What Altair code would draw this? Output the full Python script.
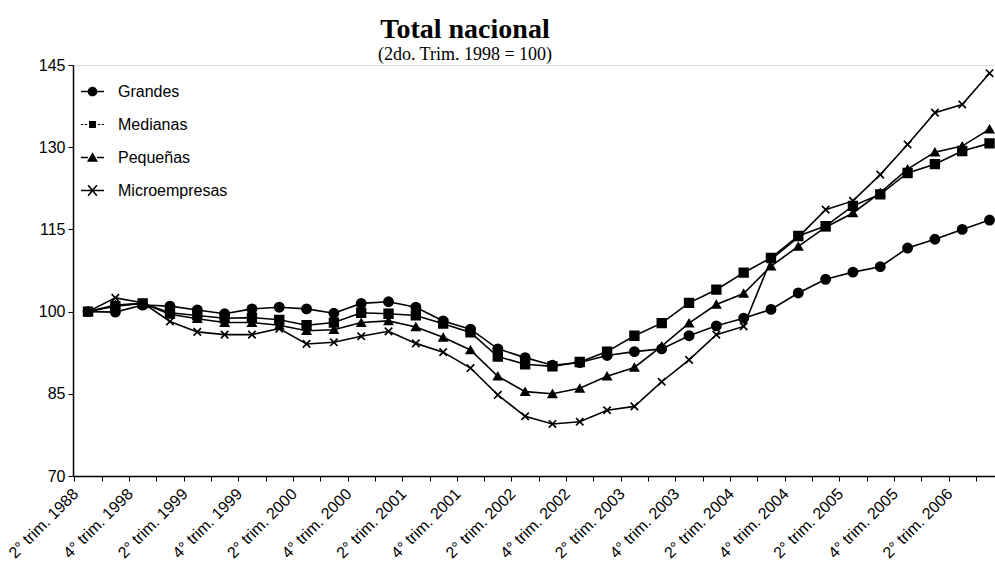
import json
import altair as alt
import pandas as pd

# Quarterly index of registered employment by company size (2nd quarter 1998 = 100)
quarters = [
    "2° trim. 1998", "3° trim. 1998", "4° trim. 1998",
    "1° trim. 1999", "2° trim. 1999", "3° trim. 1999", "4° trim. 1999",
    "1° trim. 2000", "2° trim. 2000", "3° trim. 2000", "4° trim. 2000",
    "1° trim. 2001", "2° trim. 2001", "3° trim. 2001", "4° trim. 2001",
    "1° trim. 2002", "2° trim. 2002", "3° trim. 2002", "4° trim. 2002",
    "1° trim. 2003", "2° trim. 2003", "3° trim. 2003", "4° trim. 2003",
    "1° trim. 2004", "2° trim. 2004", "3° trim. 2004", "4° trim. 2004",
    "1° trim. 2005", "2° trim. 2005", "3° trim. 2005", "4° trim. 2005",
    "1° trim. 2006", "2° trim. 2006", "3° trim. 2006",
]

# Axis labels, one every second quarter
tick_labels = [
    "2° trim. 1988", "4° trim. 1998", "2° trim. 1999", "4° trim. 1999",
    "2° trim. 2000", "4° trim. 2000", "2° trim. 2001", "4° trim. 2001",
    "2° trim. 2002", "4° trim. 2002", "2° trim. 2003", "4° trim. 2003",
    "2° trim. 2004", "4° trim. 2004", "2° trim. 2005", "4° trim. 2005",
    "2° trim. 2006",
]

grandes = [100, 99.9, 101.2, 101, 100.3, 99.6, 100.5, 100.8, 100.5, 99.7,
           101.5, 101.8, 100.8, 98.3, 96.8, 93.2, 91.6, 90.2, 90.7, 92,
           92.7, 93.2, 95.6, 97.4, 98.8, 100.4, 103.4, 105.9, 107.2, 108.2,
           111.6, 113.2, 115, 116.7]
medianas = [100, 101, 101.5, 99.8, 99.3, 98.8, 98.9, 98.5, 97.5, 98,
            99.8, 99.6, 99.3, 97.8, 96.2, 91.8, 90.4, 90, 90.8, 92.7,
            95.6, 97.9, 101.6, 104, 107.1, 109.8, 113.8, 115.6, 119.3, 121.4,
            125.3, 126.9, 129.3, 130.7]
pequenas = [100, 101.2, 101.5, 99.5, 98.7, 98, 98, 97.5, 96.5, 96.7,
            98, 98.3, 97.2, 95.3, 93, 88.2, 85.4, 85, 86, 88.2,
            89.8, 93.7, 97.9, 101.3, 103.3, 108.3, 111.9, 115.4, 118, 121.7,
            126, 129.1, 130.2, 133.3]
micro = [100, 102.5, 101.6, 98.2, 96.3, 95.8, 95.8, 96.9, 94.1, 94.4,
         95.5, 96.4, 94.2, 92.6, 89.7, 84.8, 80.9, 79.5, 79.9, 82,
         82.7, 87.2, 91.2, 95.8, 97.3, 109.5, 113.6, 118.6, 120.2, 125,
         130.5, 136.3, 137.8, 143.5]

series_names = ["Grandes", "Medianas", "Pequeñas", "Microempresas"]
series_values = [grandes, medianas, pequenas, micro]

rows = []
for name, vals in zip(series_names, series_values):
    for i, (q, v) in enumerate(zip(quarters, vals)):
        rows.append({"serie": name, "idx": i, "trimestre": q, "valor": v})
df = pd.DataFrame(rows)

FONT = "Liberation Sans"

# Ticks sit between quarters; labels shown at every second quarter centre
tick_values = [i - 0.5 for i in range(len(quarters))]
label_expr = ("(datum.value + 0.5) % 2 == 0 ? " + json.dumps(tick_labels, ensure_ascii=False)
              + "[(datum.value + 0.5) / 2] : ''")

x_enc = alt.X(
    "idx:Q",
    scale=alt.Scale(domain=[-0.55, 33.2], nice=False, zero=False),
    axis=alt.Axis(
        values=tick_values, labelExpr=label_expr, labelAngle=-45,
        labelAlign="right", labelBaseline="middle", labelOffset=1,
        labelPadding=10, labelFont=FONT, labelFontSize=16, labelColor="black",
        labelOverlap=False, labelFlush=False, tickSize=5, tickColor="black",
        domainColor="black", domainWidth=1.5, grid=False, title=None,
    ),
)
y_enc = alt.Y(
    "valor:Q",
    scale=alt.Scale(domain=[70, 145], nice=False, zero=False),
    axis=alt.Axis(
        values=[70, 85, 100, 115, 130, 145], labelFont=FONT, labelFontSize=16,
        labelColor="black", tickSize=5, tickColor="black", domainColor="black",
        domainWidth=1.5, grid=False, title=None, labelPadding=3,
    ),
)

marker_shapes = ["circle", "square", "triangle-up", "M-1,-1L1,1M-1,1L1,-1"]
marker_sizes = [85, 55, 90, 140]

lines = alt.Chart(df).mark_line(color="black", strokeWidth=1.6).encode(
    x=x_enc, y=y_enc, detail="serie:N",
)

points = alt.Chart(df).mark_point(
    fill="black", stroke="black", strokeWidth=1.7, opacity=1, filled=False,
).encode(
    x=x_enc, y=y_enc,
    shape=alt.Shape("serie:N", scale=alt.Scale(domain=series_names, range=marker_shapes), legend=None),
    size=alt.Size("serie:N", scale=alt.Scale(domain=series_names, range=marker_sizes), legend=None),
)

# Legend symbols drawn as filled outlines: a short line with the series marker on it
SEG_L = "M-1,-0.07H-0.4V0.07H-1Z"
SEG_R = "M0.4,-0.07H1V0.07H0.4Z"
legend_symbols = [
    SEG_L + SEG_R + "M-0.42,0A0.42,0.42 0 1,1 0.42,0A0.42,0.42 0 1,1 -0.42,0Z",
    ("M-1,-0.045H-0.8V0.045H-1Z M-0.68,-0.045H-0.46V0.045H-0.68Z"
     "M0.46,-0.045H0.68V0.045H0.46Z M0.8,-0.045H1V0.045H0.8Z"
     "M-0.3,-0.3H0.3V0.3H-0.3Z"),
    SEG_L + SEG_R + "M0,-0.45L0.48,0.38L-0.48,0.38Z",
    ("M-1,-0.07H1V0.07H-1Z"
     "M-0.433,-0.405L-0.327,-0.495L0.433,0.405L0.327,0.495Z"
     "M0.327,-0.495L0.433,-0.405L-0.327,0.495L-0.433,0.405Z"),
]

legend_layer = alt.Chart(df).mark_point(
    filled=True, opacity=0, color="black",
).encode(
    x=x_enc, y=y_enc,
    shape=alt.Shape(
        "serie:N",
        scale=alt.Scale(domain=series_names, range=legend_symbols),
        legend=alt.Legend(
            title=None, orient="none", legendX=7, legendY=14, direction="vertical",
            symbolSize=529, symbolFillColor="black", symbolOpacity=1,
            labelFont=FONT, labelFontSize=16, labelColor="black", labelOffset=13,
            rowPadding=12, padding=0,
        ),
    ),
)

chart = alt.layer(lines, points, legend_layer).resolve_scale(
    shape="independent", size="independent"
).properties(
    width=922,
    height=411,
    autosize=alt.AutoSizeParams(type="none"),
    padding={"left": 73, "top": 65, "right": 0, "bottom": 90},
    title=alt.Title(
        text="Total nacional",
        subtitle="(2do. Trim. 1998 = 100)",
        font="Liberation Serif", fontSize=28, fontWeight="bold", color="black",
        subtitleFont="Liberation Serif", subtitleFontSize=18,
        subtitleColor="black", subtitlePadding=2, anchor="middle", dx=-69,
        offset=-7,
    ),
).configure_view(stroke=None).configure(background="white")

chart.save("out.html", embed_options={"renderer": "svg", "actions": False})
